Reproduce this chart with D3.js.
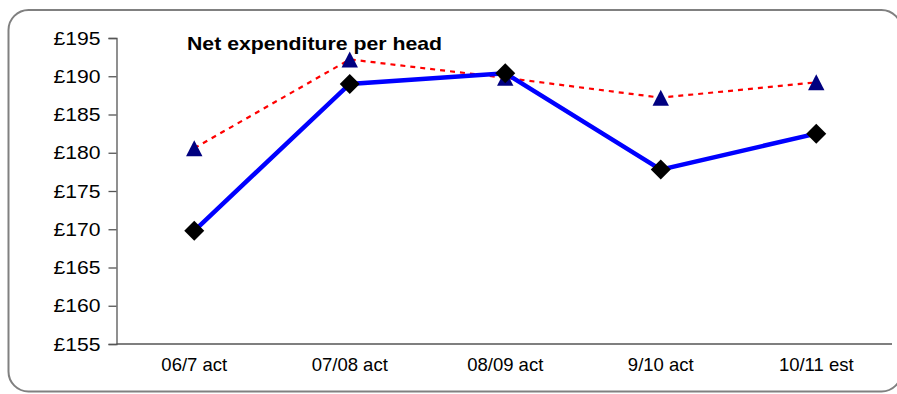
<!DOCTYPE html>
<html><head><meta charset="utf-8">
<script src="https://cdn.jsdelivr.net/npm/d3@7"></script>
<style>
html,body{margin:0;padding:0;background:#fff;}
svg{display:block;}
text{font-family:"Liberation Sans",Arial,sans-serif;}
</style></head>
<body>
<svg id="chart" width="897" height="394"></svg>
<script>
const categories = ["06/7 act","07/08 act","08/09 act","9/10 act","10/11 est"];
const netPerHead = [169.8,189.0,190.4,177.8,182.5];
const comparator = [180.6,192.2,189.8,187.2,189.2];
const yTicks = [155,160,165,170,175,180,185,190,195];
const title = "Net expenditure per head";

const svg = d3.select("#chart");
const W = 897, H = 394;
const m = {left:116.5, right:3, top:38, bottom:50};

svg.append("rect").attr("x",8.5).attr("y",10).attr("width",893).attr("height",381.5)
  .attr("rx",20).attr("ry",20).attr("fill","#fff").attr("stroke","#808080").attr("stroke-width",2);

const x = d3.scaleBand().domain(categories).range([m.left, m.left + 5*155.5]).padding(0);
const y = d3.scaleLinear().domain([155,195]).range([H - m.bottom, m.top]);

const yAxis = d3.axisLeft(y).tickValues(yTicks).tickFormat(d => "£" + d).tickSize(8).tickPadding(8);
const gy = svg.append("g").attr("transform",`translate(${m.left},0)`).call(yAxis);
gy.select(".domain").attr("stroke","#555").attr("stroke-width",1.3);
gy.selectAll(".tick line").attr("stroke","#555").attr("stroke-width",1.3);
gy.selectAll(".tick text").attr("font-size",19).attr("fill","#000").attr("textLength",47).attr("lengthAdjust","spacingAndGlyphs");

const xAxis = d3.axisBottom(x).tickSize(0).tickPadding(14).tickSizeOuter(0);
const gx = svg.append("g").attr("transform",`translate(0,${y(155)})`).call(xAxis);
gx.select(".domain").attr("stroke","#555").attr("stroke-width",1.3).attr("d",`M${m.left},0H892`);
gx.selectAll(".tick text").attr("font-size",18.5).attr("fill","#000");

const cx = d => x(d) + x.bandwidth()/2;

const line = d3.line().x((d,i) => cx(categories[i])).y(d => y(d));

svg.append("path").datum(comparator).attr("d",line).attr("fill","none")
  .attr("stroke","#ff0000").attr("stroke-width",2.2).attr("stroke-dasharray","5,5");
svg.append("path").datum(netPerHead).attr("d",line).attr("fill","none")
  .attr("stroke","#0000ff").attr("stroke-width",4.5);

svg.selectAll(".tri").data(comparator).enter().append("path")
  .attr("transform",(d,i)=>`translate(${cx(categories[i])},${y(d)})`)
  .attr("d","M0,-8L8.2,8L-8.2,8Z").attr("fill","#000080");

svg.selectAll(".dia").data(netPerHead).enter().append("path")
  .attr("transform",(d,i)=>`translate(${cx(categories[i])},${y(d)})`)
  .attr("d","M0,-10L10,0L0,10L-10,0Z").attr("fill","#000");

svg.append("text").attr("x",187).attr("y",49.5).attr("font-size",18.5).attr("font-weight","bold")
  .attr("textLength",255).attr("lengthAdjust","spacingAndGlyphs").text(title);
</script>
</body></html>
